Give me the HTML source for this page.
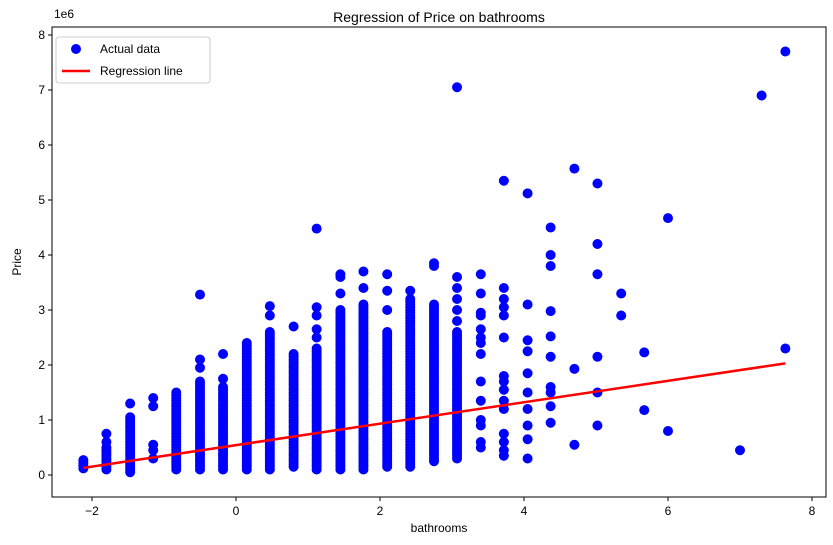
<!DOCTYPE html>
<html><head><meta charset="utf-8"><style>
html,body{margin:0;padding:0;background:#fff}
svg{display:block;font-family:"Liberation Sans","DejaVu Sans",sans-serif}
</style></head><body>
<svg id="c" width="833" height="545"></svg>
<script>
const colX=[-2.12,-1.8,-1.47,-0.83,-0.5,-0.18,0.15,0.47,0.8,1.12,1.45,1.77,2.1,2.42,2.75,3.07];
const colLo=[0.12,0.1,0.05,0.1,0.1,0.1,0.1,0.1,0.15,0.1,0.1,0.1,0.15,0.15,0.25,0.3];
const colHi=[0.3,0.5,1.05,1.5,1.7,1.6,2.4,2.6,2.2,2.3,3.0,3.1,2.6,3.2,3.1,2.6];
const outX=[-1.8,-1.8,-1.47,-1.15,-1.15,-1.15,-1.15,-1.15,-0.5,-0.5,-0.5,-0.18,-0.18,0.47,0.47,0.8,1.12,1.12,1.12,1.12,1.12,1.45,1.45,1.45,1.77,1.77,2.1,2.1,2.1,2.42,2.75,2.75,3.07,3.07,3.07,3.07,3.07,3.07,
3.4,3.4,3.4,3.4,3.4,3.4,3.4,3.4,3.4,3.4,3.4,3.4,3.4,3.4,
3.72,3.72,3.72,3.72,3.72,3.72,3.72,3.72,3.72,3.72,3.72,3.72,3.72,3.72,3.72,
4.05,4.05,4.05,4.05,4.05,4.05,4.05,4.05,4.05,4.05,
4.37,4.37,4.37,4.37,4.37,4.37,4.37,4.37,4.37,4.37,
4.7,4.7,4.7,5.02,5.02,5.02,5.02,5.02,5.02,5.35,5.35,5.67,5.67,6.0,6.0,7.0,7.3,7.63,7.63];
const outY=[0.6,0.75,1.3,0.3,0.45,0.55,1.25,1.4,1.95,2.1,3.28,1.75,2.2,2.9,3.07,2.7,2.5,2.65,2.9,3.05,4.48,3.3,3.6,3.65,3.4,3.7,3.0,3.35,3.65,3.35,3.8,3.85,2.8,3.0,3.2,3.4,3.6,7.05,
0.5,0.6,0.9,1.0,1.35,1.7,2.2,2.4,2.5,2.65,2.9,2.95,3.3,3.65,
0.35,0.45,0.6,0.75,1.2,1.35,1.55,1.7,1.8,2.5,2.9,3.05,3.2,3.4,5.35,
0.3,0.65,0.9,1.2,1.5,1.85,2.25,2.45,3.1,5.12,
0.95,1.25,1.5,1.6,2.15,2.52,2.98,3.8,4.0,4.5,
0.55,1.93,5.57,0.9,1.5,2.15,3.65,4.2,5.3,2.9,3.3,1.18,2.23,0.8,4.67,0.45,6.9,2.3,7.7];
const lineX=[-2.12,7.63];
const lineY=[0.13,2.03];
const xTicks=[-2,0,2,4,6,8];
const yTicks=[0,1,2,3,4,5,6,7,8];

const NS="http://www.w3.org/2000/svg";
const svg=document.getElementById('c');
const L=52,R=826,T=27,B=497;
const sx=v=>236+72*v;
const sy=v=>475-55*v;
function mk(t,a,p){const e=document.createElementNS(NS,t);for(const k in a)e.setAttribute(k,a[k]);(p||svg).appendChild(e);return e;}

const pts=mk('g',{});


for(let i=0;i<colX.length;i++){
  for(let v=colLo[i];v<=colHi[i]+1e-9;v+=0.05){
    const c=mk('circle',{cx:sx(colX[i]),cy:sy(v),r:5,fill:'#0000ff'},pts);
    
    
  }
}
for(let i=0;i<outX.length;i++){
  const c=mk('circle',{cx:sx(outX[i]),cy:sy(outY[i]),r:5,fill:'#0000ff'},pts);
  
  
}
const rl=mk('line',{x1:sx(lineX[0]),y1:sy(lineY[0]),x2:sx(lineX[1]),y2:sy(lineY[1]),stroke:'#ff0000','stroke-width':2.5});



const fr=mk('rect',{x:L,y:T,width:R-L,height:B-T,fill:'none',stroke:'#000','stroke-width':1});


xTicks.forEach(t=>{
  mk('line',{x1:sx(t),x2:sx(t),y1:B,y2:B+4,stroke:'#000'});
  const tx=mk('text',{x:sx(t),y:B+18,'text-anchor':'middle','font-size':12});
  tx.textContent=(t<0?'\u2212'+(-t):t);
  
  
});
yTicks.forEach(t=>{
  mk('line',{x1:L-4,x2:L,y1:sy(t),y2:sy(t),stroke:'#000'});
  const tx=mk('text',{x:L-7,y:sy(t)+4,'text-anchor':'end','font-size':12});
  tx.textContent=t;
  
  
});
</script>
<script>
(function(){
const NS="http://www.w3.org/2000/svg",svg=document.getElementById('c');
function txt(x,y,s,size,name,extra){const e=document.createElementNS(NS,'text');e.setAttribute('x',x);e.setAttribute('y',y);e.setAttribute('font-size',size);e.setAttribute('text-anchor','middle');if(extra)e.setAttribute('transform',extra);e.textContent=s;svg.appendChild(e);return e;}
let e=txt(439,22,'Regression of Price on bathrooms',14);


e=txt(439,532,'bathrooms',12);


e=txt(21,262,'Price',12,null,'rotate(-90 21 262)');


e=txt(64,18,'1e6',12);


const g=document.createElementNS(NS,'g');svg.appendChild(g);


g.innerHTML='<rect x="56" y="37" width="154" height="46" rx="3" fill="#fff" fill-opacity="0.85" stroke="#ccc"/>'+
'<circle cx="76" cy="49" r="5" fill="#0000ff"/>'+
'<text x="100" y="53" font-size="12">Actual data</text>'+
'<line x1="62" y1="71" x2="90" y2="71" stroke="#ff0000" stroke-width="2.5"/>'+
'<text x="100" y="75" font-size="12">Regression line</text>';
})();
</script>
</body></html>
